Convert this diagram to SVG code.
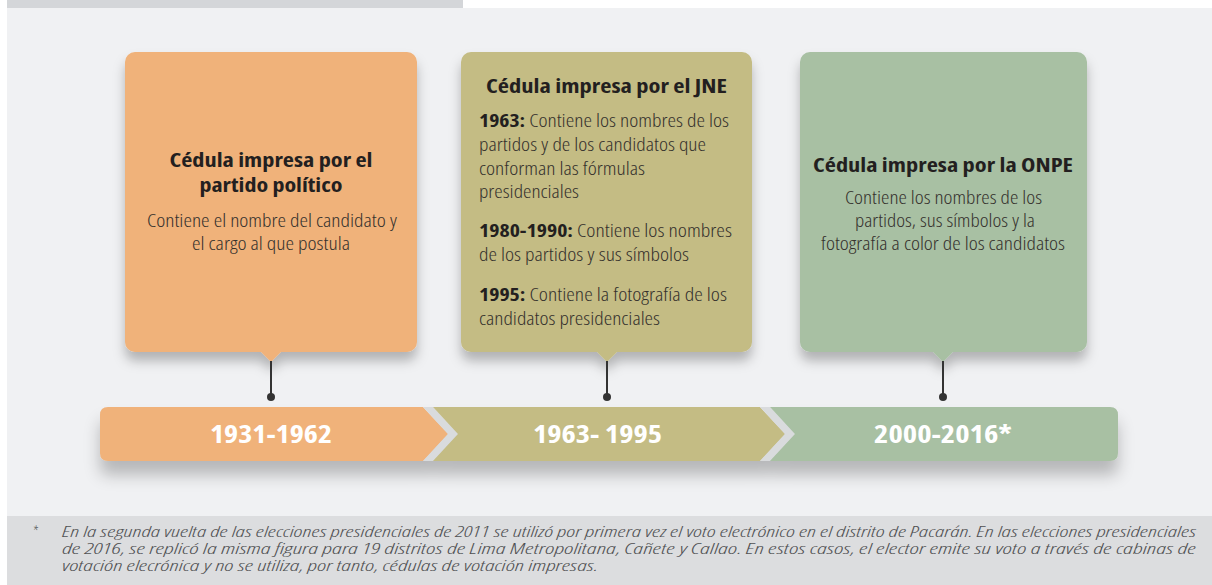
<svg xmlns="http://www.w3.org/2000/svg" width="1212" height="585" viewBox="0 0 1212 585">
<style>
text{font-family:"Open Sans","Liberation Sans",sans-serif;font-stretch:condensed}
.title{font-size:20px;font-weight:700;fill:#231f20}
.body{font-size:18.5px;font-weight:300;fill:#35312d}
.b{font-weight:700;fill:#231f20}
.year{font-size:25px;font-weight:700;fill:#ffffff}
.foot{font-size:14.5px;font-style:italic;font-weight:300;fill:#4f5052}
.stem{stroke:#333333;stroke-width:2}
.dot{fill:#333333}
.sep{fill:#d9dbdd}
</style>
<defs>
<filter id="cardShadow" x="-10%" y="-10%" width="120%" height="130%">
<feDropShadow dx="0" dy="9" stdDeviation="6" flood-color="#000" flood-opacity="0.26"/>
</filter>
<filter id="barShadow" x="-5%" y="-30%" width="110%" height="200%">
<feDropShadow dx="0" dy="14" stdDeviation="8" flood-color="#000" flood-opacity="0.24"/>
</filter>
</defs>
<rect x="0" y="0" width="1212" height="585" fill="#ffffff"/>
<rect x="7" y="8" width="1205" height="508" fill="#f0f1f3"/>
<rect x="7" y="0" width="456" height="8" fill="#d4d6d9"/>
<rect x="7" y="516" width="1205" height="69" fill="#dcdddf"/>

<g id="node-card1">
<g filter="url(#cardShadow)">
<rect x="125" y="52" width="292" height="300" rx="10" fill="#f0b27a"/>
<polygon points="260,351 282,351 271,362" fill="#f0b27a"/>
</g>
<text class="title" x="271" y="167" text-anchor="middle" textLength="203" lengthAdjust="spacingAndGlyphs">Cédula impresa por el</text>
<text class="title" x="271" y="192" text-anchor="middle" textLength="143" lengthAdjust="spacingAndGlyphs">partido político</text>
<text class="body" x="272" y="227" text-anchor="middle" textLength="250" lengthAdjust="spacingAndGlyphs">Contiene el nombre del candidato y</text>
<text class="body" x="271" y="250" text-anchor="middle" textLength="158" lengthAdjust="spacingAndGlyphs">el cargo al que postula</text>
</g>

<g id="node-card2">
<g filter="url(#cardShadow)">
<rect x="461" y="52" width="291" height="300" rx="10" fill="#c4bc84"/>
<polygon points="596,351 618,351 607,362" fill="#c4bc84"/>
</g>
<text class="title" x="606.5" y="93" text-anchor="middle" textLength="241" lengthAdjust="spacingAndGlyphs">Cédula impresa por el JNE</text>
<text class="body" x="479" y="127" textLength="250" lengthAdjust="spacingAndGlyphs"><tspan class="b">1963:</tspan> Contiene los nombres de los</text>
<text class="body" x="479" y="151" textLength="227" lengthAdjust="spacingAndGlyphs">partidos y de los candidatos que</text>
<text class="body" x="479" y="175" textLength="166" lengthAdjust="spacingAndGlyphs">conforman las fórmulas</text>
<text class="body" x="479" y="198" textLength="100" lengthAdjust="spacingAndGlyphs">presidenciales</text>
<text class="body" x="479" y="237" textLength="253" lengthAdjust="spacingAndGlyphs"><tspan class="b">1980-1990:</tspan> Contiene los nombres</text>
<text class="body" x="479" y="261" textLength="210" lengthAdjust="spacingAndGlyphs">de los partidos y sus símbolos</text>
<text class="body" x="479" y="301" textLength="248" lengthAdjust="spacingAndGlyphs"><tspan class="b">1995:</tspan> Contiene la fotografía de los</text>
<text class="body" x="479" y="325" textLength="181" lengthAdjust="spacingAndGlyphs">candidatos presidenciales</text>
</g>

<g id="node-card3">
<g filter="url(#cardShadow)">
<rect x="800" y="52" width="287" height="300" rx="10" fill="#a8c0a3"/>
<polygon points="932,351 954,351 943,362" fill="#a8c0a3"/>
</g>
<text class="title" x="943" y="172" text-anchor="middle" textLength="260" lengthAdjust="spacingAndGlyphs">Cédula impresa por la ONPE</text>
<text class="body" x="943.5" y="204" text-anchor="middle" textLength="197" lengthAdjust="spacingAndGlyphs">Contiene los nombres de los</text>
<text class="body" x="945" y="227" text-anchor="middle" textLength="180" lengthAdjust="spacingAndGlyphs">partidos, sus símbolos y la</text>
<text class="body" x="943" y="250" text-anchor="middle" textLength="244" lengthAdjust="spacingAndGlyphs">fotografía a color de los candidatos</text>
</g>

<g id="connectors">
<line class="stem" x1="271" y1="361" x2="271" y2="397"/>
<circle class="dot" cx="271" cy="397" r="4"/>
<line class="stem" x1="607" y1="361" x2="607" y2="397"/>
<circle class="dot" cx="607" cy="397" r="4"/>
<line class="stem" x1="943" y1="361" x2="943" y2="397"/>
<circle class="dot" cx="943" cy="397" r="4"/>
</g>

<g id="node-timeline">
<g filter="url(#barShadow)">
<path d="M108,407 H423 L448,434 L423,461 H108 Q100,461 100,453 V415 Q100,407 108,407 Z" fill="#f0b27a"/>
<polygon class="sep" points="423,407 433,407 458,434 433,461 423,461 448,434"/>
<polygon points="433,407 760,407 785,434 760,461 433,461 458,434" fill="#c4bc84"/>
<polygon class="sep" points="760,407 770,407 795,434 770,461 760,461 785,434"/>
<path d="M770,407 H1110 Q1118,407 1118,415 V453 Q1118,461 1110,461 H770 L795,434 Z" fill="#a8c0a3"/>
</g>
<text class="year" x="271" y="443" text-anchor="middle" textLength="122" lengthAdjust="spacingAndGlyphs">1931-1962</text>
<text class="year" x="597.5" y="443" text-anchor="middle" textLength="129" lengthAdjust="spacingAndGlyphs">1963- 1995</text>
<text class="year" x="943" y="443" text-anchor="middle" textLength="138" lengthAdjust="spacingAndGlyphs">2000-2016*</text>
</g>

<g id="footnote">
<text class="foot" x="32" y="538" style="font-size:16px">*</text>
<text class="foot" x="62" y="537" textLength="1134" lengthAdjust="spacingAndGlyphs">En la segunda vuelta de las elecciones presidenciales de 2011 se utilizó por primera vez el voto electrónico en el distrito de Pacarán. En las elecciones presidenciales</text>
<text class="foot" x="62" y="554" textLength="1134" lengthAdjust="spacingAndGlyphs">de 2016, se replicó la misma figura para 19 distritos de Lima Metropolitana, Cañete y Callao. En estos casos, el elector emite su voto a través de cabinas de</text>
<text class="foot" x="62" y="571" textLength="536" lengthAdjust="spacingAndGlyphs">votación elecrónica y no se utiliza, por tanto, cédulas de votación impresas.</text>
</g>
</svg>
